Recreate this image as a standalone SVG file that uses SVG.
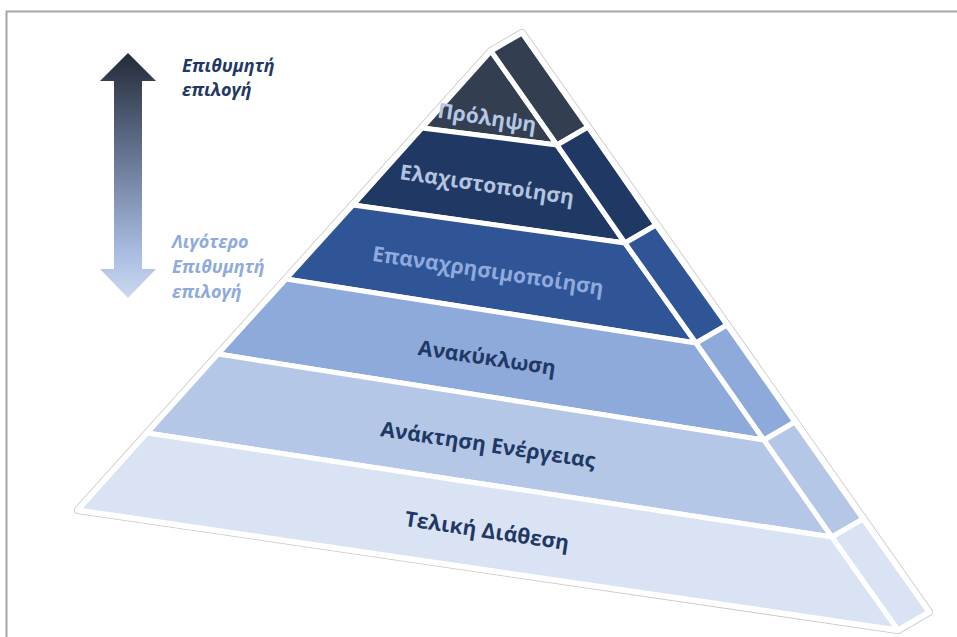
<svg xmlns="http://www.w3.org/2000/svg" width="957" height="637" viewBox="0 0 957 637">
<defs>
<linearGradient id="arrowGrad" x1="0" y1="52" x2="0" y2="298" gradientUnits="userSpaceOnUse">
<stop offset="0" stop-color="#222a38"/>
<stop offset="0.45" stop-color="#6a7a98"/>
<stop offset="0.8" stop-color="#a6badf"/>
<stop offset="1" stop-color="#cbd8ef"/>
</linearGradient>
<style>
.lay{stroke:#ffffff;stroke-width:5;stroke-linejoin:round}
.lbl{font-family:"Open Sans","Noto Sans","DejaVu Sans",sans-serif;font-weight:700;font-size:21px;text-anchor:middle}
.side{font-family:"Open Sans","Noto Sans","DejaVu Sans",sans-serif;font-weight:700;font-style:italic;font-size:18px}
.c1{fill:#333f50}.c2{fill:#1f3864}.c3{fill:#2f5597}.c4{fill:#8eaadb}.c5{fill:#b4c7e7}.c6{fill:#dae3f3}
</style>
</defs>
<rect width="957" height="637" fill="#ffffff"/>
<path d="M6.5,637 V11.5 H957" fill="none" stroke="#a6a6a6" stroke-width="2"/>

<g id="outline">
<polygon points="491,51 522,33 929,612 898,630 78,510" fill="#ffffff" stroke="#c8c8c8" stroke-width="8" stroke-linejoin="round"/>
<polygon points="491,51 522,33 929,612 898,630 78,510" fill="#ffffff" stroke="#ffffff" stroke-width="6.4" stroke-linejoin="round"/>
</g>

<g id="layer-prolipsi">
<polygon class="lay c1" points="491,51 557,145 422,128"/>
<polygon class="lay c1" points="491,51 522,33 588,127 557,145"/>
<text class="lbl" x="487" y="125" fill="#b4c7e7" transform="rotate(8.5 487 118)">Πρόληψη</text>
</g>
<g id="layer-elaxistopoiisi">
<polygon class="lay c2" points="422,128 557,145 625,243 353,205"/>
<polygon class="lay c2" points="557,145 588,127 656,225 625,243"/>
<text class="lbl" x="487" y="192" fill="#b4c3df" transform="rotate(8.5 487 185)">Ελαχιστοποίηση</text>
</g>
<g id="layer-epanaxrisimopoiisi">
<polygon class="lay c3" points="353,205 625,243 696,343 286,279"/>
<polygon class="lay c3" points="625,243 656,225 727,325 696,343"/>
<text class="lbl" x="488" y="278" fill="#8faadc" transform="rotate(8.5 488 271)">Επαναχρησιμοποίηση</text>
</g>
<g id="layer-anakyklosi">
<polygon class="lay c4" points="286,279 696,343 764,440 218,354"/>
<polygon class="lay c4" points="696,343 727,325 795,422 764,440"/>
<text class="lbl" x="487" y="365" fill="#1f3864" transform="rotate(8.5 487 358)">Ανακύκλωση</text>
</g>
<g id="layer-anaktisi">
<polygon class="lay c5" points="218,354 764,440 832,537 147,433"/>
<polygon class="lay c5" points="764,440 795,422 863,519 832,537"/>
<text class="lbl" x="488" y="452" fill="#1f3864" transform="rotate(8.5 488 445)">Ανάκτηση Ενέργειας</text>
</g>
<g id="layer-teliki">
<polygon class="lay c6" points="147,433 832,537 898,630 78,510"/>
<polygon class="lay c6" points="832,537 863,519 929,612 898,630"/>
<text class="lbl" x="487" y="538" fill="#1f3864" transform="rotate(8.5 487 531)">Τελική Διάθεση</text>
</g>

<g id="arrow">
<polygon points="128,53 156,81 142,81 142,269 156,269 128,298 100,269 114,269 114,81 100,81" fill="url(#arrowGrad)"/>
</g>
<g id="label-top">
<text class="side" fill="#1f3864"><tspan x="182" y="72">Επιθυμητή</tspan><tspan x="182" y="96">επιλογή</tspan></text>
</g>
<g id="label-bottom">
<text class="side" fill="#8faadc"><tspan x="172" y="248">Λιγότερο</tspan><tspan x="172" y="273">Επιθυμητή</tspan><tspan x="172" y="298">επιλογή</tspan></text>
</g>
</svg>
